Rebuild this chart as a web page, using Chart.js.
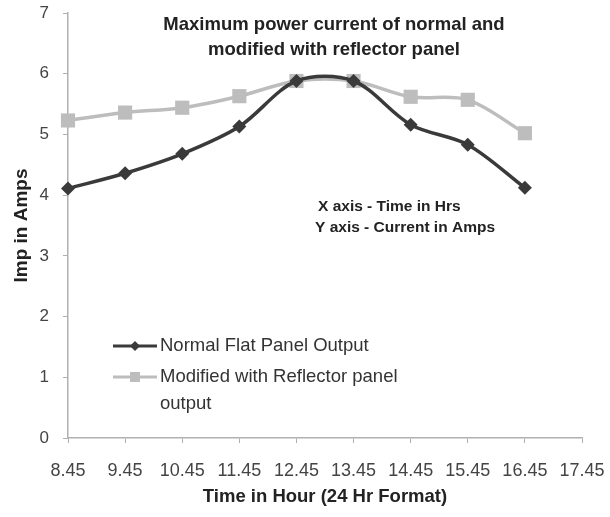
<!DOCTYPE html>
<html>
<head>
<meta charset="utf-8">
<script src="https://cdn.jsdelivr.net/npm/chart.js@4.4.1/dist/chart.umd.min.js"></script>
<style>
  html, body { margin: 0; padding: 0; background: #fff; }
  #wrap { width: 610px; height: 517px; }
</style>
</head>
<body>
<div id="wrap"><canvas id="chart" width="610" height="517"></canvas></div>
<script>
// data
const horas = ['8.45', '9.45', '10.45', '11.45', '12.45', '13.45', '14.45', '15.45', '16.45', '17.45'];
const normalFlat = [4.11, 4.36, 4.68, 5.13, 5.88, 5.88, 5.16, 4.83, 4.12];
const comRefletor = [5.23, 5.36, 5.44, 5.63, 5.88, 5.88, 5.62, 5.57, 5.02];
const ticksY = [0, 1, 2, 3, 4, 5, 6, 7];

const tituloLinhas = ['Maximum power current of normal and', 'modified with reflector panel'];
const notaLinhas = ['X axis - Time in Hrs', 'Y axis - Current in Amps'];
const nomesSeries = ['Normal Flat Panel Output', 'Modified with Reflector panel', 'output'];

const corNormal = '#3a3a3a';
const corModif = '#bdbdbd';
const fonte = '"Liberation Sans", Arial, sans-serif';

// titulo, nota e legenda dentro da area do grafico
const textosInternos = {
    id: 'textosInternos',
    afterDraw(chart) {
        const ctx = chart.ctx;
        ctx.save();
        ctx.fillStyle = '#222';
        ctx.textAlign = 'center';
        ctx.textBaseline = 'middle';
        ctx.font = 'bold 18.5px ' + fonte;
        ctx.fillText(tituloLinhas[0], 334, 25);
        ctx.fillText(tituloLinhas[1], 334, 50);

        ctx.textAlign = 'left';
        ctx.font = 'bold 15.5px ' + fonte;
        ctx.fillText(notaLinhas[0], 318, 207);
        ctx.fillText(notaLinhas[1], 315, 228);

        // legenda
        const lx0 = 113, lx1 = 157, mx = 135;
        ctx.lineWidth = 3;
        ctx.strokeStyle = corNormal;
        ctx.beginPath(); ctx.moveTo(lx0, 346); ctx.lineTo(lx1, 346); ctx.stroke();
        ctx.fillStyle = corNormal;
        ctx.beginPath();
        ctx.moveTo(mx, 341); ctx.lineTo(mx + 5, 346); ctx.lineTo(mx, 351); ctx.lineTo(mx - 5, 346);
        ctx.closePath(); ctx.fill();

        ctx.strokeStyle = corModif;
        ctx.beginPath(); ctx.moveTo(lx0, 377); ctx.lineTo(lx1, 377); ctx.stroke();
        ctx.fillStyle = corModif;
        ctx.fillRect(mx - 5, 372, 10, 10);

        ctx.font = '18.5px ' + fonte;
        ctx.fillStyle = '#333';
        ctx.fillText(nomesSeries[0], 160, 346);
        ctx.fillText(nomesSeries[1], 160, 377);
        ctx.fillText(nomesSeries[2], 160, 404);
        ctx.restore();
    }
};

new Chart(document.getElementById('chart'), {
    type: 'line',
    data: {
        labels: horas,
        datasets: [
            {
                label: nomesSeries[0],
                data: normalFlat,
                borderColor: corNormal,
                backgroundColor: corNormal,
                borderWidth: 3.5,
                tension: 0.32,
                pointStyle: 'rectRot',
                pointRadius: 7,
                pointBorderWidth: 0
            },
            {
                label: nomesSeries[1] + ' ' + nomesSeries[2],
                data: comRefletor,
                borderColor: corModif,
                backgroundColor: corModif,
                borderWidth: 3.5,
                tension: 0.32,
                pointStyle: 'rect',
                pointRadius: 10,
                pointBorderWidth: 0
            }
        ]
    },
    options: {
        responsive: false,
        animation: false,
        layout: { padding: { top: 13, right: 28, left: 0, bottom: 0 } },
        plugins: {
            legend: { display: false },
            title: { display: false },
            tooltip: { enabled: false }
        },
        scales: {
            x: {
                offset: false,
                grid: { drawOnChartArea: false, drawTicks: true, tickLength: 5, color: '#b0b0b0' },
                border: { color: '#b0b0b0', width: 1.5 },
                ticks: { color: '#444', font: { family: fonte, size: 18 }, padding: 17, maxRotation: 0, autoSkip: false },
                title: { display: true, text: 'Time in Hour (24 Hr Format)', color: '#222', font: { family: fonte, size: 18.5, weight: 'bold' }, padding: { top: 0, bottom: 9 } },
                afterFit(s) { s.height = 79; s.paddingRight = 0; s.paddingLeft = 0; }
            },
            y: {
                min: 0,
                max: 7,
                afterBuildTicks(s) { s.ticks = ticksY.map(v => ({ value: v })); },
                grid: { drawOnChartArea: false, drawTicks: true, tickLength: 5, color: '#b0b0b0' },
                border: { color: '#b0b0b0', width: 1.5 },
                ticks: { color: '#444', font: { family: fonte, size: 17 }, padding: 14 },
                title: { display: true, text: 'Imp in Amps', color: '#222', font: { family: fonte, size: 19, weight: 'bold' }, padding: { top: 10, bottom: 0 } },
                afterFit(s) { s.width = 68; s.paddingTop = 0; s.paddingBottom = 0; }
            }
        }
    },
    plugins: [textosInternos]
});
</script>
</body>
</html>
